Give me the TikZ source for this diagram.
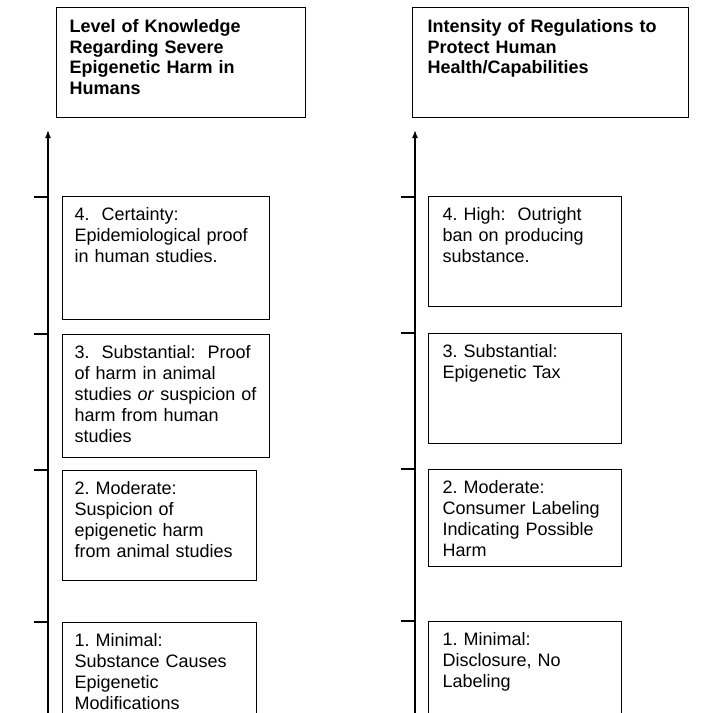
\documentclass[tikz,border=0pt]{standalone}
\usepackage{fontspec}
\setmainfont{Liberation Sans}
\usetikzlibrary{arrows.meta}
\frenchspacing
\tikzset{
  lvl/.style={draw,line width=1.3pt,anchor=north west,align=left,inner ysep=0pt,inner xsep=12pt,text height=24pt,font=\fontsize{18}{21}\selectfont},
  ttl/.style={lvl,font=\fontsize{18}{20.5}\selectfont\bfseries},
  axis/.style={line width=1.5pt,-{Latex[length=8pt,width=6pt]}},
  tick/.style={line width=1.2pt}
}
\begin{document}
\begin{tikzpicture}[x=1pt,y=-1pt]
\useasboundingbox (0,0) rectangle (710,713);
\clip (0,0) rectangle (710,713);

% knowledge column
\coordinate (knowBot) at (48,730);
\coordinate (knowTop) at (48,130);
\draw[axis] (knowBot) -- (knowTop);
\foreach \y in {197,334,470,622}
  \draw[tick] (34,\y) -- (48,\y);
\node[ttl,inner xsep=13pt,text width=223pt,text depth=85pt,text height=25pt] (knowTitle) at (56,7)
  {Level of Knowledge\\Regarding Severe\\Epigenetic Harm in\\Humans};
\node[lvl,text width=183pt,text depth=99pt] (knowFour) at (62,196)
  {4.\ \ Certainty:\\Epidemiological proof\\in human studies.};
\node[lvl,inner xsep=10pt,text width=187pt,text depth=99pt] (knowThree) at (62,334)
  {\hspace*{2pt}3.\ \ Substantial:\ \ Proof\\\hspace*{2pt}of harm in animal\\\hspace*{2pt}studies \emph{or} suspicion of\\\hspace*{2pt}harm from human\\\hspace*{2pt}studies};
\node[lvl,text width=170pt,text depth=86pt] (knowTwo) at (62,470)
  {2. Moderate:\\Suspicion of\\epigenetic harm\\from animal studies};
\node[lvl,text width=170pt,text depth=106pt] (knowOne) at (62,622)
  {1. Minimal:\\Substance Causes\\Epigenetic\\Modifications};

% regulation column
\coordinate (regBot) at (415,730);
\coordinate (regTop) at (415,130);
\draw[axis] (regBot) -- (regTop);
\foreach \y in {197,333,469,621}
  \draw[tick] (401,\y) -- (415,\y);
\node[ttl,inner xsep=15pt,text width=246pt,text depth=85pt,text height=25pt] (regTitle) at (412,7)
  {Intensity of Regulations to\\Protect Human\\Health/Capabilities};
\node[lvl,inner xsep=14pt,text width=165pt,text depth=86pt] (regFour) at (428,196)
  {4. High:\ \ Outright\\ban on producing\\substance.};
\node[lvl,inner xsep=14pt,text width=165pt,text depth=86pt] (regThree) at (428,333)
  {3. Substantial:\\Epigenetic Tax};
\node[lvl,inner xsep=14pt,text width=165pt,text depth=73pt] (regTwo) at (428,469)
  {2. Moderate:\\Consumer Labeling\\Indicating Possible\\Harm};
\node[lvl,inner xsep=14pt,text width=165pt,text depth=106pt] (regOne) at (428,621)
  {1. Minimal:\\Disclosure, No\\Labeling};
\end{tikzpicture}
\end{document}
